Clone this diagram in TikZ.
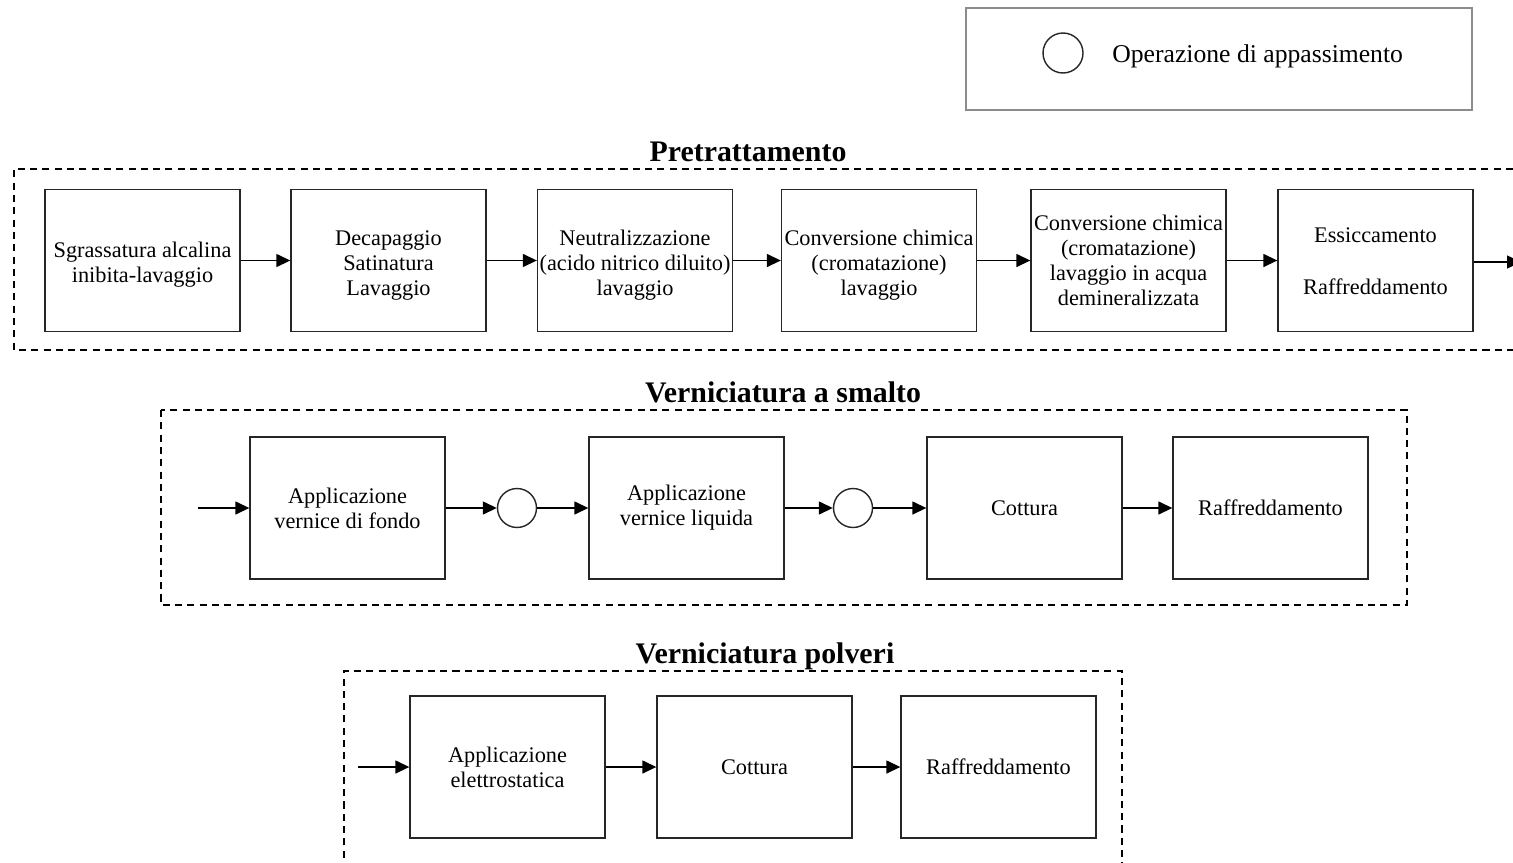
\documentclass[tikz,border=0pt]{standalone}
\usepackage{fontspec}
\setmainfont{Liberation Serif}
\usetikzlibrary{arrows.meta}
\newcommand\lowtext[2][2.8pt]{\raisebox{-#1}[\height][\depth]{\begin{tabular}{@{}c@{}}#2\end{tabular}}}
\begin{document}
\begin{tikzpicture}[x=0.02cm,y=-0.02cm,
  proc/.style={draw=black!85, line width=0.8pt, minimum width=3.9cm, minimum height=2.84cm, inner xsep=0pt, inner ysep=2pt, align=center, font=\fontsize{12.7}{14.2}\selectfont},
  appass/.style={circle, draw=black!85, line width=0.8pt, minimum size=0.78cm, inner sep=0pt},
  flow/.style={-{Triangle[length=0.28cm,width=0.26cm]}, line width=0.8pt},
  group/.style={dash pattern=on 4pt off 3pt, line width=0.8pt},
  grouptitle/.style={font=\fontsize{17}{20}\selectfont\bfseries, anchor=base, inner sep=0pt},
  legendtext/.style={font=\fontsize{14.6}{17}\selectfont, anchor=west, inner sep=0pt}
]
\useasboundingbox (0,0) rectangle (1513,862);

% Legend
\draw[draw=black!45, line width=0.8pt] (966,8) rectangle (1472,110);
\node[appass, minimum size=0.8cm] (legc) at (1063,53) {};
\node[legendtext] (legt) at (1112,56) {Operazione di appassimento};

% Pretrattamento
\node[grouptitle] (t1) at (748,161) {Pretrattamento};
\draw[group] (1513,169) -- (14,169) -- (14,350) -- (1513,350);
\node[proc] (p1) at (142.5,260.5) {\lowtext{Sgrassatura alcalina\\inibita-lavaggio}};
\node[proc] (p2) at (388.5,260.5) {\lowtext{Decapaggio\\Satinatura\\Lavaggio}};
\node[proc] (p3) at (635,260.5) {\lowtext{Neutralizzazione\\(acido nitrico diluito)\\lavaggio}};
\node[proc] (p4) at (879,260.5) {\lowtext{Conversione chimica\\(cromatazione)\\lavaggio}};
\node[proc] (p5) at (1128.5,260.5) {Conversione chimica\\(cromatazione)\\lavaggio in acqua\\demineralizzata};
\node[proc] (p6) at (1375.5,260.5) {\lowtext[1.7pt]{Essiccamento\\[15pt]Raffreddamento}};
\coordinate (pout) at (1521,262);
\draw[flow] (p1) -- (p2);
\draw[flow] (p2) -- (p3);
\draw[flow] (p3) -- (p4);
\draw[flow] (p4) -- (p5);
\draw[flow] (p5) -- (p6);
\draw[flow] (p6.east |- pout) -- (pout);

% Verniciatura a smalto
\node[grouptitle] (t2) at (783,402) {Verniciatura a smalto};
\draw[group] (161,410) rectangle (1407,605);
\node[proc] (s1) at (347.5,508) {Applicazione\\vernice di fondo};
\node[appass] (c1) at (517,508) {};
\node[proc] (s2) at (686.5,508) {Applicazione\\vernice liquida};
\node[appass] (c2) at (853,508) {};
\node[proc] (s3) at (1024.5,508) {Cottura};
\node[proc] (s4) at (1270.5,508) {Raffreddamento};
\coordinate (sin) at (198,508);
\draw[flow] (sin) -- (s1);
\draw[flow] (s1) -- (c1);
\draw[flow] (c1) -- (s2);
\draw[flow] (s2) -- (c2);
\draw[flow] (c2) -- (s3);
\draw[flow] (s3) -- (s4);

% Verniciatura polveri
\node[grouptitle] (t3) at (765,663) {Verniciatura polveri};
\draw[group] (344,870) -- (344,671) -- (1122,671) -- (1122,870);
\node[proc] (v1) at (507.5,767) {Applicazione\\elettrostatica};
\node[proc] (v2) at (754.5,767) {Cottura};
\node[proc] (v3) at (998.5,767) {Raffreddamento};
\coordinate (vin) at (358,767);
\draw[flow] (vin) -- (v1);
\draw[flow] (v1) -- (v2);
\draw[flow] (v2) -- (v3);
\end{tikzpicture}
\end{document}
